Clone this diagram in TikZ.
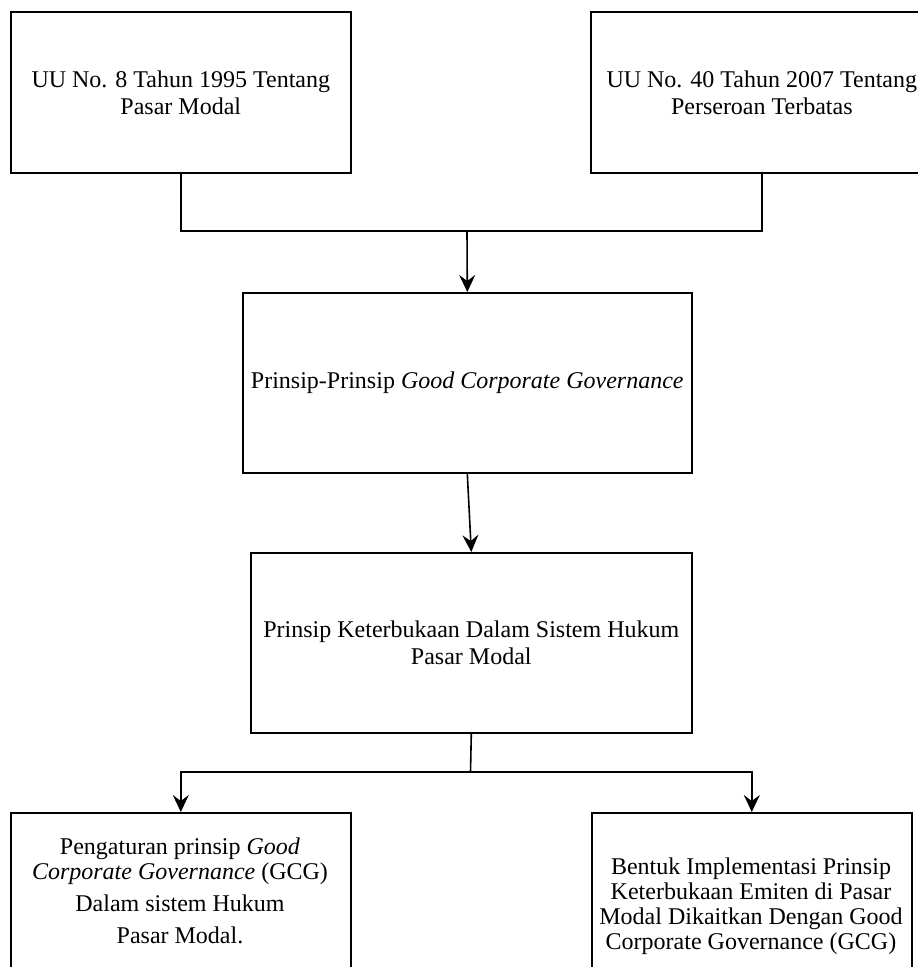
\documentclass[tikz,border=0pt]{standalone}
\usepackage{fontspec}
\setmainfont{Liberation Serif}
\usetikzlibrary{arrows.meta}
\begin{document}
\begin{tikzpicture}[x=1pt,y=-1pt,
  box/.style={draw, line width=1.6pt, rectangle, inner sep=0pt, anchor=north west, align=center, font=\fontsize{24}{27}\selectfont},
  txt/.style={inner sep=0pt, anchor=north, align=center, font=\fontsize{24}{25}\selectfont},
  link/.style={line width=1.6pt},
  arr/.style={link, -{Stealth[length=17pt,width=16pt,inset=6pt]}}]
\useasboundingbox (0,0) rectangle (918,967);
\clip (0,0) rectangle (918,967);
\node[box, minimum width=340pt, minimum height=161pt] (a) at (10,11) {UU No. 8 Tahun 1995 Tentang\\Pasar Modal};
\node[box, minimum width=342pt, minimum height=161pt] (b) at (590,11) {UU No. 40 Tahun 2007 Tentang\\Perseroan Terbatas};
\node[box, minimum width=449pt, minimum height=180pt] (c) at (242,292) {Prinsip-Prinsip \textit{Good Corporate Governance}};
\node[box, minimum width=441pt, minimum height=180pt] (d) at (250,552) {Prinsip Keterbukaan Dalam Sistem Hukum\\Pasar Modal};
\node[box, minimum width=340pt, minimum height=260pt] (e) at (10,812) {};
\node[box, minimum width=320pt, minimum height=260pt] (f) at (591,812) {};
\node[txt] (et) at (180,837.5) {Pengaturan prinsip \textit{Good}\\\textit{Corporate Governance} (GCG)\\[7pt]Dalam sistem Hukum\\[7pt]Pasar Modal.};
\node[txt] (ft) at (751,857.5) {Bentuk Implementasi Prinsip\\Keterbukaan Emiten di Pasar\\Modal Dikaitkan Dengan Good\\Corporate Governance (GCG)};
\coordinate (j1) at (467,231);
\coordinate (j2) at (470.5,772);
\draw[link] (a.south) |- (j1) -| (b.south);
\draw[arr] (j1) -- (c.north);
\draw[arr] (c.south) -- (d.north);
\draw[link] (d.south) -- (j2);
\draw[arr] (j2) -| (e.north);
\draw[arr] (j2) -| (f.north);
\end{tikzpicture}
\end{document}
